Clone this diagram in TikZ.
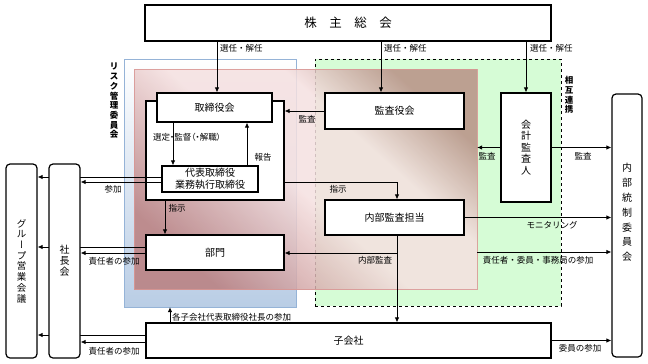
\documentclass[tikz,border=0pt]{standalone}
\usepackage{fontspec}
\setmainfont{Noto Sans CJK JP}
\usetikzlibrary{arrows.meta}

\definecolor{riskline}{RGB}{149,179,215}
\definecolor{riskfill}{RGB}{185,205,229}
\definecolor{renkeifill}{RGB}{214,252,214}
\definecolor{honshared}{RGB}{186,126,126}
\definecolor{honshabrown}{RGB}{184,144,134}
\definecolor{honshalight}{RGB}{245,224,224}
\definecolor{honshaline}{RGB}{217,150,148}

\pgfdeclareverticalshading{honshashade}{100bp}{color(0bp)=(honshared); color(25bp)=(honshared);
  color(48bp)=(honshalight); color(62bp)=(honshalight); color(75bp)=(honshabrown); color(100bp)=(honshabrown)}

\pgfdeclarelayer{regions}
\pgfdeclarelayer{lines}
\pgfsetlayers{regions,lines,main}

\begin{document}
\begin{tikzpicture}[x=1pt,y=-1pt,
    box/.style={draw,line width=1.2pt,fill=white,inner sep=0pt,font=\fontsize{10}{12}\selectfont},
    rbox/.style={box,rounded corners=4pt},
    vtxt/.style={align=center,inner sep=0pt},
    lbl/.style={font=\fontsize{8.5}{10}\selectfont,inner sep=1pt},
    arr/.style={line width=0.8pt,-{Latex[length=5pt,width=4.5pt]}}]
    \useasboundingbox (0,0) rectangle (648,364);
    \begin{pgfonlayer}{regions}
    \node[draw=riskline,top color=white,bottom color=riskfill,minimum width=172,minimum height=248,inner sep=0pt] (risk) at (210,183) {};
    \node[draw,dashed,line width=0.8pt,fill=renkeifill,minimum width=246,minimum height=247,inner sep=0pt] (renkei) at (438,182.5) {};
    \node[draw=honshaline,shading=honshashade,shading angle=-42,opacity=0.85,minimum width=343,minimum height=220,inner sep=0pt] (honsha) at (305.5,179) {};
    \node[box,minimum width=138,minimum height=99] (waku) at (215,150.5) {};
    \end{pgfonlayer}
    \node[vtxt,font=\bfseries\fontsize{8.5}{9.7}\selectfont] at (114,101) {リ\\ス\\ク\\管\\理\\委\\員\\会};
    \node[vtxt,font=\bfseries\fontsize{8.5}{9.7}\selectfont] at (569,95) {相\\互\\連\\携};

    \node[box,minimum width=406,minimum height=36,font=\fontsize{12.5}{14}\selectfont] (kabunushi) at (348,23) {株\quad 主\quad 総\quad 会};
    \node[box,minimum width=115,minimum height=29] (torikai) at (214.5,107.5) {取締役会};
    \node[box,minimum width=96,minimum height=26,align=center] (daihyo) at (210,179) {代表取締役\\業務執行取締役};
    \node[box,minimum width=139,minimum height=36] (kansa) at (394.5,111) {監査役会};
    \node[box,minimum width=139,minimum height=35] (naibukansa) at (394.5,217.5) {内部監査担当};
    \node[box,minimum width=138,minimum height=35] (bumon) at (215,252.5) {部門};
    \node[box,minimum width=50,minimum height=109,align=center,font=\fontsize{10}{11.5}\selectfont] (kaikei) at (526,147.5) {会\\計\\監\\査\\人};
    \node[box,minimum width=405,minimum height=35] (kogaisha) at (348.5,340.5) {子会社};
    \node[rbox,minimum width=31,minimum height=194,align=center,font=\fontsize{10}{11}\selectfont] (shacho) at (64.5,261) {社\\長\\会};
    \node[rbox,minimum width=31,minimum height=194,align=center,font=\fontsize{9.5}{10.7}\selectfont] (group) at (21.5,261) {グ\\ル\\{\addfontfeature{RawFeature=+vert}ー}\\プ\\営\\業\\会\\議};
    \node[rbox,minimum width=30,minimum height=263] (tosei) at (627,225.5) {};
    \node[vtxt,font=\fontsize{10}{14.8}\selectfont] at ([yshift=13pt]tosei.center) {内\\部\\統\\制\\委\\員\\会};

    \begin{pgfonlayer}{lines}
    \draw[arr] (kabunushi.south -| 217,0) -- (torikai.north -| 217,0);
    \draw[arr] (kabunushi.south -| 381,0) -- (kansa.north -| 381,0);
    \draw[arr] (kabunushi.south -| kaikei) -- (kaikei.north);
    \draw[arr] (kansa.west) -- (kansa.west -| waku.east);
    \draw[arr] (torikai.south -| 173,0) -- (daihyo.north -| 173,0);
    \draw[arr] (daihyo.north -| 247,0) -- (torikai.south -| 247,0);
    \draw[arr] (daihyo.west |- 0,177) -- (group.east |- 0,177);
    \draw[arr] (daihyo.west |- 0,182) -- (shacho.east |- 0,182);
    \draw[arr] (waku.east |- 0,182) -| (naibukansa.north -| 397,0);
    \draw[arr] (waku.south -| 165,0) -- (bumon.north -| 165,0);
    \draw[arr] (bumon.west |- 0,247) -- (group.east |- 0,247);
    \draw[arr] (bumon.west |- 0,253) -- (shacho.east |- 0,253);
    \draw[arr] (naibukansa.south -| 397,0) -- (kogaisha.north -| 397,0);
    \draw[arr] (naibukansa.south -| 397,0) |- (bumon.east |- 0,253);
    \draw[arr] (naibukansa.east) -- (naibukansa.east -| tosei.west);
    \draw[arr] (kaikei.west) -- (kaikei.west -| honsha.east);
    \draw[arr] (kaikei.east) -- (kaikei.east -| tosei.west);
    \draw[arr] (honsha.east |- 0,252) -- (tosei.west |- 0,252);
    \draw[arr] (kogaisha.north -| 170,0) -- (risk.south -| 170,0);
    \draw[arr] (kogaisha.west |- 0,335) -- (group.east |- 0,335);
    \draw[arr] (kogaisha.west |- 0,342) -- (shacho.east |- 0,342);
    \draw[arr] (kogaisha.east) -- (kogaisha.east -| tosei.west);
    \end{pgfonlayer}

    \node[lbl,right] at (219,48) {選任・解任};
    \node[lbl,right] at (383,48) {選任・解任};
    \node[lbl,right] at (529,48) {選任・解任};
    \node[lbl] at (307,119) {監査};
    \node[lbl] at (187,137) {\addfontfeature{RawFeature=+palt}選定・監督（・解職）};
    \node[lbl] at (263,157) {報告};
    \node[lbl] at (113,189) {参加};
    \node[lbl] at (177,208) {指示};
    \node[lbl] at (338,189) {指示};
    \node[lbl] at (114,261) {責任者の参加};
    \node[lbl] at (375,260) {内部監査};
    \node[lbl] at (538,260) {責任者・委員・事務局の参加};
    \node[lbl] at (487,156) {監査};
    \node[lbl] at (583,156) {監査};
    \node[lbl] at (552,225) {モニタリング};
    \node[lbl,right] at (171,317) {各子会社代表取締役社長の参加};
    \node[lbl] at (114,351) {責任者の参加};
    \node[lbl] at (580,348) {委員の参加};
\end{tikzpicture}
\end{document}
